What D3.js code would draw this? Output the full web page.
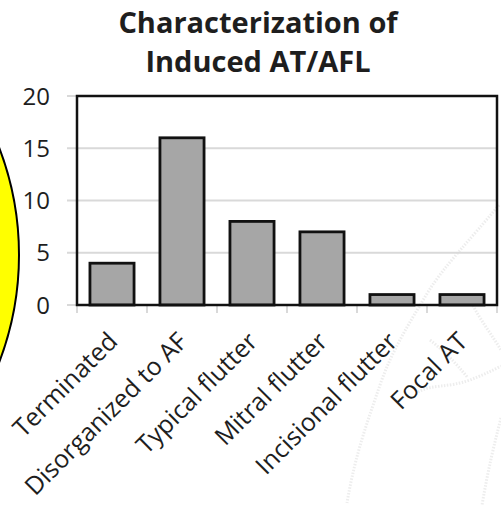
<!DOCTYPE html>
<html>
<head>
<meta charset="utf-8">
<script src="https://cdn.jsdelivr.net/npm/d3@7"></script>
<style>
    body { margin: 0; background: #fff; }
    svg { display: block; }
    text { font-family: "Open Sans", sans-serif; fill: #1e1e1e; }
</style>
</head>
<body>
<div id="chart"></div>
<script>
var titleLines = ["Characterization of", "Induced AT/AFL"];
var categories = ["Terminated", "Disorganized to AF", "Typical flutter", "Mitral flutter", "Incisional flutter", "Focal AT"];
var counts = [4, 16, 8, 7, 1, 1];
var yTicks = [0, 5, 10, 15, 20];

var width = 501, height = 505;
var plot = { left: 77, right: 497, top: 96, bottom: 305 };

var svg = d3.select("#chart")
    .append("svg")
    .attr("width", width)
    .attr("height", height);

svg.append("rect")
    .attr("width", width)
    .attr("height", height)
    .attr("fill", "#fff");

// faint background sketch behind the chart
var sketch = [
    "M499,205 C470,240 445,265 428,292 C410,322 392,350 380,385 C368,420 355,455 347,503",
    "M501,418 C494,445 488,470 482,505",
    "M418,392 C432,384 448,388 470,380 C480,376 490,372 501,366",
    "M430,340 C445,352 455,362 468,378",
    "M470,300 C480,320 492,335 501,350"
];
svg.selectAll("path.sketch")
    .data(sketch)
    .enter().append("path")
    .attr("class", "sketch")
    .attr("d", function (d) { return d; })
    .attr("fill", "none")
    .attr("stroke", "#ededed")
    .attr("stroke-width", 3)
    .attr("stroke-dasharray", "1.5,1.5");

// yellow disc cut by the left edge
svg.append("circle")
    .attr("cx", -281)
    .attr("cy", 255)
    .attr("r", 300)
    .attr("fill", "#ffff00")
    .attr("stroke", "#000")
    .attr("stroke-width", 2);

var x = d3.scaleBand()
    .domain(categories)
    .range([plot.left, plot.right])
    .paddingInner(0.37)
    .paddingOuter(0.185);

var y = d3.scaleLinear()
    .domain([0, 20])
    .range([plot.bottom, plot.top]);

// gridlines, running out past the frame as tick marks
svg.append("g")
    .selectAll("line")
    .data(yTicks)
    .enter().append("line")
    .attr("x1", 67)
    .attr("x2", plot.right)
    .attr("y1", function (d) { return y(d); })
    .attr("y2", function (d) { return y(d); })
    .attr("stroke", "#d9d9d9")
    .attr("stroke-width", 2);

// category boundary ticks under the axis
var bounds = categories.map(function (c) { return x(c) - x.step() * x.paddingInner() / 2; });
bounds.push(plot.right);
svg.append("g")
    .selectAll("line")
    .data(bounds)
    .enter().append("line")
    .attr("x1", function (d) { return d; })
    .attr("x2", function (d) { return d; })
    .attr("y1", plot.bottom)
    .attr("y2", plot.bottom + 8)
    .attr("stroke", "#d9d9d9")
    .attr("stroke-width", 2);

svg.append("g")
    .selectAll("text")
    .data(yTicks)
    .enter().append("text")
    .attr("x", 50)
    .attr("y", function (d) { return y(d); })
    .attr("dy", "0.36em")
    .attr("text-anchor", "end")
    .style("font-size", "24px")
    .text(function (d) { return d; });

svg.append("g")
    .selectAll("rect")
    .data(counts)
    .enter().append("rect")
    .attr("x", function (d, i) { return x(categories[i]); })
    .attr("y", function (d) { return y(d); })
    .attr("width", x.bandwidth())
    .attr("height", function (d) { return y(0) - y(d); })
    .attr("fill", "#a6a6a6")
    .attr("stroke", "#111")
    .attr("stroke-width", 2.8);

// plot frame
svg.append("rect")
    .attr("x", plot.left)
    .attr("y", plot.top)
    .attr("width", plot.right - plot.left)
    .attr("height", plot.bottom - plot.top)
    .attr("fill", "none")
    .attr("stroke", "#111")
    .attr("stroke-width", 2.5);

svg.append("g")
    .selectAll("text")
    .data(categories)
    .enter().append("text")
    .attr("transform", function (d) {
        var cx = x(d) + x.bandwidth() / 2;
        return "translate(" + (cx + 7) + ",343) rotate(-45)";
    })
    .attr("text-anchor", "end")
    .style("font-size", "25px")
    .text(function (d) { return d; });

svg.append("g")
    .selectAll("text")
    .data(titleLines)
    .enter().append("text")
    .attr("x", 258)
    .attr("y", function (d, i) { return 33 + i * 39; })
    .attr("text-anchor", "middle")
    .style("font-size", "29px")
    .style("font-weight", "bold")
    .text(function (d) { return d; });
</script>
</body>
</html>
